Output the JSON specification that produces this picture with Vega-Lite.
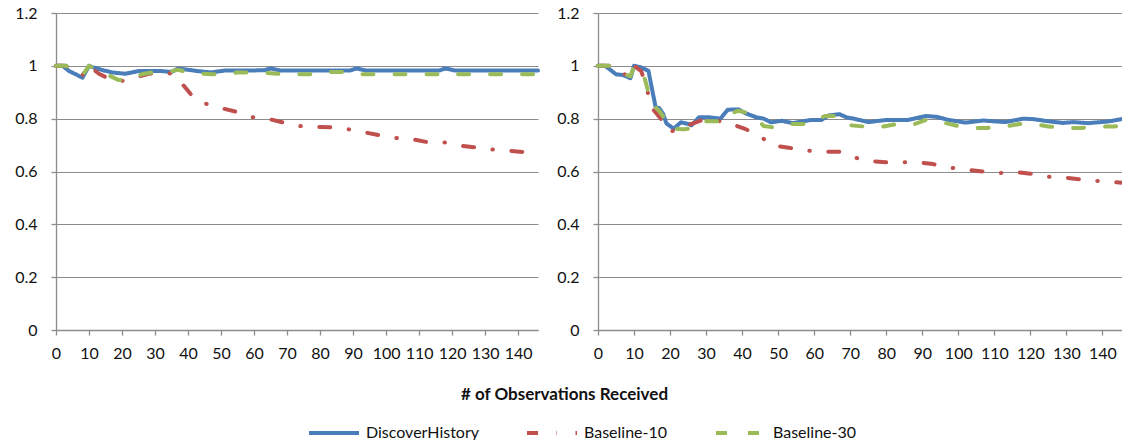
{
  "$schema": "https://vega.github.io/schema/vega-lite/v6.json",
  "padding": {"left": 14, "top": 5, "right": 0, "bottom": 0},
  "autosize": {"type": "pad"},
  "bounds": "flush",
  "spacing": 60,
  "background": "white",
  "config": {
    "font": "Lato",
    "view": {"stroke": null},
    "axis": {
      "labelFont": "Lato", "labelFontSize": 16, "labelColor": "#111111",
      "domainColor": "#8c8c8c", "domainWidth": 1.3,
      "tickColor": "#8c8c8c", "tickWidth": 1.3, "tickSize": 5,
      "gridColor": "#8c8c8c", "gridWidth": 1.2,
      "titleFont": "Lato", "titleFontSize": 17, "titleFontWeight": "bold", "titleColor": "#111111"
    },
    "legend": {"labelFont": "Lato", "labelFontSize": 16, "labelColor": "#111111"}
  },
  "data": {"values": [
    {"panel":"L","series":"DiscoverHistory","x":0,"y":1},
    {"panel":"L","series":"DiscoverHistory","x":2,"y":1},
    {"panel":"L","series":"DiscoverHistory","x":4,"y":0.98},
    {"panel":"L","series":"DiscoverHistory","x":6,"y":0.968},
    {"panel":"L","series":"DiscoverHistory","x":8,"y":0.955},
    {"panel":"L","series":"DiscoverHistory","x":10,"y":1.0},
    {"panel":"L","series":"DiscoverHistory","x":11,"y":0.995},
    {"panel":"L","series":"DiscoverHistory","x":14,"y":0.984},
    {"panel":"L","series":"DiscoverHistory","x":17,"y":0.975},
    {"panel":"L","series":"DiscoverHistory","x":21,"y":0.97},
    {"panel":"L","series":"DiscoverHistory","x":23,"y":0.975},
    {"panel":"L","series":"DiscoverHistory","x":25,"y":0.98},
    {"panel":"L","series":"DiscoverHistory","x":32,"y":0.98},
    {"panel":"L","series":"DiscoverHistory","x":35,"y":0.977},
    {"panel":"L","series":"DiscoverHistory","x":37,"y":0.99},
    {"panel":"L","series":"DiscoverHistory","x":40,"y":0.985},
    {"panel":"L","series":"DiscoverHistory","x":43,"y":0.98},
    {"panel":"L","series":"DiscoverHistory","x":47,"y":0.975},
    {"panel":"L","series":"DiscoverHistory","x":51,"y":0.982},
    {"panel":"L","series":"DiscoverHistory","x":63,"y":0.983},
    {"panel":"L","series":"DiscoverHistory","x":65,"y":0.99},
    {"panel":"L","series":"DiscoverHistory","x":68,"y":0.982},
    {"panel":"L","series":"DiscoverHistory","x":89,"y":0.982},
    {"panel":"L","series":"DiscoverHistory","x":91,"y":0.99},
    {"panel":"L","series":"DiscoverHistory","x":94,"y":0.982},
    {"panel":"L","series":"DiscoverHistory","x":116,"y":0.982},
    {"panel":"L","series":"DiscoverHistory","x":118,"y":0.99},
    {"panel":"L","series":"DiscoverHistory","x":121,"y":0.982},
    {"panel":"L","series":"DiscoverHistory","x":146,"y":0.982},

    {"panel":"L","series":"Baseline-10","x":0,"y":1},
    {"panel":"L","series":"Baseline-10","x":3,"y":1},
    {"panel":"L","series":"Baseline-10","x":6,"y":0.975},
    {"panel":"L","series":"Baseline-10","x":8,"y":0.965},
    {"panel":"L","series":"Baseline-10","x":10,"y":1.0},
    {"panel":"L","series":"Baseline-10","x":13,"y":0.97},
    {"panel":"L","series":"Baseline-10","x":15,"y":0.958},
    {"panel":"L","series":"Baseline-10","x":18,"y":0.94},
    {"panel":"L","series":"Baseline-10","x":21,"y":0.945},
    {"panel":"L","series":"Baseline-10","x":24,"y":0.955},
    {"panel":"L","series":"Baseline-10","x":28,"y":0.97},
    {"panel":"L","series":"Baseline-10","x":33,"y":0.975},
    {"panel":"L","series":"Baseline-10","x":35,"y":0.97},
    {"panel":"L","series":"Baseline-10","x":38,"y":0.935},
    {"panel":"L","series":"Baseline-10","x":41,"y":0.89},
    {"panel":"L","series":"Baseline-10","x":45,"y":0.858},
    {"panel":"L","series":"Baseline-10","x":50,"y":0.84},
    {"panel":"L","series":"Baseline-10","x":55,"y":0.825},
    {"panel":"L","series":"Baseline-10","x":59,"y":0.806},
    {"panel":"L","series":"Baseline-10","x":64,"y":0.8},
    {"panel":"L","series":"Baseline-10","x":69,"y":0.785},
    {"panel":"L","series":"Baseline-10","x":74,"y":0.772},
    {"panel":"L","series":"Baseline-10","x":79,"y":0.769},
    {"panel":"L","series":"Baseline-10","x":85,"y":0.767},
    {"panel":"L","series":"Baseline-10","x":89,"y":0.759},
    {"panel":"L","series":"Baseline-10","x":94,"y":0.747},
    {"panel":"L","series":"Baseline-10","x":99,"y":0.735},
    {"panel":"L","series":"Baseline-10","x":104,"y":0.725},
    {"panel":"L","series":"Baseline-10","x":108,"y":0.722},
    {"panel":"L","series":"Baseline-10","x":113,"y":0.71},
    {"panel":"L","series":"Baseline-10","x":118,"y":0.71},
    {"panel":"L","series":"Baseline-10","x":123,"y":0.697},
    {"panel":"L","series":"Baseline-10","x":128,"y":0.69},
    {"panel":"L","series":"Baseline-10","x":133,"y":0.682},
    {"panel":"L","series":"Baseline-10","x":138,"y":0.678},
    {"panel":"L","series":"Baseline-10","x":143,"y":0.672},
    {"panel":"L","series":"Baseline-10","x":146,"y":0.662},

    {"panel":"L","series":"Baseline-30","x":0,"y":1},
    {"panel":"L","series":"Baseline-30","x":3,"y":1},
    {"panel":"L","series":"Baseline-30","x":6,"y":0.975},
    {"panel":"L","series":"Baseline-30","x":8,"y":0.965},
    {"panel":"L","series":"Baseline-30","x":10,"y":1.0},
    {"panel":"L","series":"Baseline-30","x":15,"y":0.97},
    {"panel":"L","series":"Baseline-30","x":19,"y":0.946},
    {"panel":"L","series":"Baseline-30","x":23,"y":0.95},
    {"panel":"L","series":"Baseline-30","x":26,"y":0.968},
    {"panel":"L","series":"Baseline-30","x":29,"y":0.975},
    {"panel":"L","series":"Baseline-30","x":34,"y":0.977},
    {"panel":"L","series":"Baseline-30","x":37,"y":0.985},
    {"panel":"L","series":"Baseline-30","x":40,"y":0.975},
    {"panel":"L","series":"Baseline-30","x":42,"y":0.972},
    {"panel":"L","series":"Baseline-30","x":47,"y":0.968},
    {"panel":"L","series":"Baseline-30","x":51,"y":0.968},
    {"panel":"L","series":"Baseline-30","x":55,"y":0.975},
    {"panel":"L","series":"Baseline-30","x":62,"y":0.975},
    {"panel":"L","series":"Baseline-30","x":67,"y":0.97},
    {"panel":"L","series":"Baseline-30","x":71,"y":0.968},
    {"panel":"L","series":"Baseline-30","x":80,"y":0.968},
    {"panel":"L","series":"Baseline-30","x":82,"y":0.977},
    {"panel":"L","series":"Baseline-30","x":87,"y":0.977},
    {"panel":"L","series":"Baseline-30","x":89,"y":0.968},
    {"panel":"L","series":"Baseline-30","x":116,"y":0.968},
    {"panel":"L","series":"Baseline-30","x":118,"y":0.975},
    {"panel":"L","series":"Baseline-30","x":121,"y":0.968},
    {"panel":"L","series":"Baseline-30","x":146,"y":0.968},

    {"panel":"R","series":"DiscoverHistory","x":0,"y":1},
    {"panel":"R","series":"DiscoverHistory","x":2,"y":1},
    {"panel":"R","series":"DiscoverHistory","x":5,"y":0.968},
    {"panel":"R","series":"DiscoverHistory","x":7,"y":0.965},
    {"panel":"R","series":"DiscoverHistory","x":9,"y":0.953},
    {"panel":"R","series":"DiscoverHistory","x":10,"y":1.0},
    {"panel":"R","series":"DiscoverHistory","x":12,"y":0.994},
    {"panel":"R","series":"DiscoverHistory","x":14,"y":0.981},
    {"panel":"R","series":"DiscoverHistory","x":15,"y":0.912},
    {"panel":"R","series":"DiscoverHistory","x":16,"y":0.843},
    {"panel":"R","series":"DiscoverHistory","x":17,"y":0.84},
    {"panel":"R","series":"DiscoverHistory","x":18,"y":0.82},
    {"panel":"R","series":"DiscoverHistory","x":19,"y":0.782},
    {"panel":"R","series":"DiscoverHistory","x":21,"y":0.762},
    {"panel":"R","series":"DiscoverHistory","x":23,"y":0.786},
    {"panel":"R","series":"DiscoverHistory","x":25,"y":0.78},
    {"panel":"R","series":"DiscoverHistory","x":26,"y":0.775},
    {"panel":"R","series":"DiscoverHistory","x":28,"y":0.805},
    {"panel":"R","series":"DiscoverHistory","x":31,"y":0.805},
    {"panel":"R","series":"DiscoverHistory","x":34,"y":0.8},
    {"panel":"R","series":"DiscoverHistory","x":36,"y":0.834},
    {"panel":"R","series":"DiscoverHistory","x":39,"y":0.835},
    {"panel":"R","series":"DiscoverHistory","x":41,"y":0.82},
    {"panel":"R","series":"DiscoverHistory","x":44,"y":0.805},
    {"panel":"R","series":"DiscoverHistory","x":46,"y":0.8},
    {"panel":"R","series":"DiscoverHistory","x":48,"y":0.786},
    {"panel":"R","series":"DiscoverHistory","x":51,"y":0.792},
    {"panel":"R","series":"DiscoverHistory","x":54,"y":0.783},
    {"panel":"R","series":"DiscoverHistory","x":59,"y":0.795},
    {"panel":"R","series":"DiscoverHistory","x":62,"y":0.795},
    {"panel":"R","series":"DiscoverHistory","x":64,"y":0.812},
    {"panel":"R","series":"DiscoverHistory","x":67,"y":0.817},
    {"panel":"R","series":"DiscoverHistory","x":69,"y":0.805},
    {"panel":"R","series":"DiscoverHistory","x":71,"y":0.8},
    {"panel":"R","series":"DiscoverHistory","x":75,"y":0.787},
    {"panel":"R","series":"DiscoverHistory","x":80,"y":0.795},
    {"panel":"R","series":"DiscoverHistory","x":86,"y":0.795},
    {"panel":"R","series":"DiscoverHistory","x":91,"y":0.81},
    {"panel":"R","series":"DiscoverHistory","x":94,"y":0.807},
    {"panel":"R","series":"DiscoverHistory","x":97,"y":0.796},
    {"panel":"R","series":"DiscoverHistory","x":102,"y":0.785},
    {"panel":"R","series":"DiscoverHistory","x":107,"y":0.793},
    {"panel":"R","series":"DiscoverHistory","x":113,"y":0.787},
    {"panel":"R","series":"DiscoverHistory","x":118,"y":0.8},
    {"panel":"R","series":"DiscoverHistory","x":121,"y":0.798},
    {"panel":"R","series":"DiscoverHistory","x":125,"y":0.79},
    {"panel":"R","series":"DiscoverHistory","x":129,"y":0.784},
    {"panel":"R","series":"DiscoverHistory","x":132,"y":0.787},
    {"panel":"R","series":"DiscoverHistory","x":136,"y":0.783},
    {"panel":"R","series":"DiscoverHistory","x":142,"y":0.79},
    {"panel":"R","series":"DiscoverHistory","x":146,"y":0.8},

    {"panel":"R","series":"Baseline-10","x":0,"y":1},
    {"panel":"R","series":"Baseline-10","x":4,"y":1},
    {"panel":"R","series":"Baseline-10","x":7,"y":0.97},
    {"panel":"R","series":"Baseline-10","x":9,"y":0.96},
    {"panel":"R","series":"Baseline-10","x":10,"y":1.0},
    {"panel":"R","series":"Baseline-10","x":12,"y":0.98},
    {"panel":"R","series":"Baseline-10","x":13,"y":0.94},
    {"panel":"R","series":"Baseline-10","x":15,"y":0.84},
    {"panel":"R","series":"Baseline-10","x":18,"y":0.79},
    {"panel":"R","series":"Baseline-10","x":20,"y":0.75},
    {"panel":"R","series":"Baseline-10","x":22,"y":0.76},
    {"panel":"R","series":"Baseline-10","x":25,"y":0.775},
    {"panel":"R","series":"Baseline-10","x":29,"y":0.795},
    {"panel":"R","series":"Baseline-10","x":31,"y":0.795},
    {"panel":"R","series":"Baseline-10","x":34,"y":0.79},
    {"panel":"R","series":"Baseline-10","x":37,"y":0.78},
    {"panel":"R","series":"Baseline-10","x":41,"y":0.76},
    {"panel":"R","series":"Baseline-10","x":45,"y":0.735},
    {"panel":"R","series":"Baseline-10","x":48,"y":0.70},
    {"panel":"R","series":"Baseline-10","x":53,"y":0.69},
    {"panel":"R","series":"Baseline-10","x":57,"y":0.68},
    {"panel":"R","series":"Baseline-10","x":62,"y":0.675},
    {"panel":"R","series":"Baseline-10","x":67,"y":0.675},
    {"panel":"R","series":"Baseline-10","x":70,"y":0.657},
    {"panel":"R","series":"Baseline-10","x":75,"y":0.64},
    {"panel":"R","series":"Baseline-10","x":80,"y":0.635},
    {"panel":"R","series":"Baseline-10","x":84,"y":0.635},
    {"panel":"R","series":"Baseline-10","x":89,"y":0.635},
    {"panel":"R","series":"Baseline-10","x":93,"y":0.628},
    {"panel":"R","series":"Baseline-10","x":97,"y":0.616},
    {"panel":"R","series":"Baseline-10","x":102,"y":0.607},
    {"panel":"R","series":"Baseline-10","x":107,"y":0.6},
    {"panel":"R","series":"Baseline-10","x":111,"y":0.594},
    {"panel":"R","series":"Baseline-10","x":116,"y":0.598},
    {"panel":"R","series":"Baseline-10","x":121,"y":0.59},
    {"panel":"R","series":"Baseline-10","x":125,"y":0.58},
    {"panel":"R","series":"Baseline-10","x":129,"y":0.578},
    {"panel":"R","series":"Baseline-10","x":134,"y":0.57},
    {"panel":"R","series":"Baseline-10","x":138,"y":0.565},
    {"panel":"R","series":"Baseline-10","x":143,"y":0.56},
    {"panel":"R","series":"Baseline-10","x":146,"y":0.557},

    {"panel":"R","series":"Baseline-30","x":0,"y":1},
    {"panel":"R","series":"Baseline-30","x":4,"y":1},
    {"panel":"R","series":"Baseline-30","x":7,"y":0.97},
    {"panel":"R","series":"Baseline-30","x":9,"y":0.96},
    {"panel":"R","series":"Baseline-30","x":10,"y":1.0},
    {"panel":"R","series":"Baseline-30","x":12,"y":0.98},
    {"panel":"R","series":"Baseline-30","x":13,"y":0.95},
    {"panel":"R","series":"Baseline-30","x":14,"y":0.9},
    {"panel":"R","series":"Baseline-30","x":15,"y":0.855},
    {"panel":"R","series":"Baseline-30","x":17,"y":0.83},
    {"panel":"R","series":"Baseline-30","x":18,"y":0.81},
    {"panel":"R","series":"Baseline-30","x":20,"y":0.762},
    {"panel":"R","series":"Baseline-30","x":24,"y":0.76},
    {"panel":"R","series":"Baseline-30","x":27,"y":0.765},
    {"panel":"R","series":"Baseline-30","x":29,"y":0.79},
    {"panel":"R","series":"Baseline-30","x":32,"y":0.79},
    {"panel":"R","series":"Baseline-30","x":35,"y":0.79},
    {"panel":"R","series":"Baseline-30","x":37,"y":0.82},
    {"panel":"R","series":"Baseline-30","x":39,"y":0.83},
    {"panel":"R","series":"Baseline-30","x":42,"y":0.82},
    {"panel":"R","series":"Baseline-30","x":44,"y":0.8},
    {"panel":"R","series":"Baseline-30","x":46,"y":0.772},
    {"panel":"R","series":"Baseline-30","x":50,"y":0.765},
    {"panel":"R","series":"Baseline-30","x":54,"y":0.78},
    {"panel":"R","series":"Baseline-30","x":58,"y":0.78},
    {"panel":"R","series":"Baseline-30","x":63,"y":0.81},
    {"panel":"R","series":"Baseline-30","x":67,"y":0.81},
    {"panel":"R","series":"Baseline-30","x":70,"y":0.775},
    {"panel":"R","series":"Baseline-30","x":74,"y":0.77},
    {"panel":"R","series":"Baseline-30","x":79,"y":0.77},
    {"panel":"R","series":"Baseline-30","x":83,"y":0.78},
    {"panel":"R","series":"Baseline-30","x":88,"y":0.78},
    {"panel":"R","series":"Baseline-30","x":91,"y":0.795},
    {"panel":"R","series":"Baseline-30","x":96,"y":0.785},
    {"panel":"R","series":"Baseline-30","x":100,"y":0.772},
    {"panel":"R","series":"Baseline-30","x":105,"y":0.765},
    {"panel":"R","series":"Baseline-30","x":108,"y":0.765},
    {"panel":"R","series":"Baseline-30","x":113,"y":0.77},
    {"panel":"R","series":"Baseline-30","x":117,"y":0.78},
    {"panel":"R","series":"Baseline-30","x":121,"y":0.78},
    {"panel":"R","series":"Baseline-30","x":125,"y":0.77},
    {"panel":"R","series":"Baseline-30","x":130,"y":0.765},
    {"panel":"R","series":"Baseline-30","x":134,"y":0.765},
    {"panel":"R","series":"Baseline-30","x":139,"y":0.77},
    {"panel":"R","series":"Baseline-30","x":143,"y":0.77},
    {"panel":"R","series":"Baseline-30","x":146,"y":0.775}
  ]},
  "hconcat": [
    {
      "width": 482, "height": 317,
      "transform": [{"filter": "datum.panel == 'L'"}],
      "mark": {"type": "line", "strokeWidth": 4, "strokeCap": "round", "strokeJoin": "round"},
      "encoding": {
        "x": {"field": "x", "type": "quantitative",
          "scale": {"domain": [0, 146], "nice": false, "zero": false},
          "axis": {"values": [0,10,20,30,40,50,60,70,80,90,100,110,120,130,140], "grid": false, "labelPadding": 10, "labelFlush": false, "labelOverlap": false,
            "title": "# of Observations Received", "titleX": 508, "titleY": 56, "titleAnchor": "middle", "titleAlign": "center", "titleBaseline": "top"}},
        "y": {"field": "y", "type": "quantitative",
          "scale": {"domain": [0, 1.2], "nice": false},
          "axis": {"values": [0,0.2,0.4,0.6,0.8,1,1.2], "format": "~g", "labelPadding": 14, "title": null, "grid": true}},
        "color": {"field": "series", "type": "nominal",
          "scale": {"domain": ["DiscoverHistory", "Baseline-10", "Baseline-30"], "range": ["#4a7ebb", "#c0504d", "#9bbb59"]},
          "legend": {"orient": "none", "legendX": 251, "legendY": 393, "direction": "horizontal", "title": null,
            "symbolType": "stroke", "symbolSize": 2500, "symbolStrokeWidth": 4, "labelOffset": 5, "columnPadding": 40}},
        "strokeDash": {"field": "series", "type": "nominal",
          "scale": {"domain": ["DiscoverHistory", "Baseline-10", "Baseline-30"], "range": [[1, 0], [11, 18.5, 0.5, 18.5], [11, 21]]},
          "legend": {"orient": "none", "legendX": 251, "legendY": 393, "direction": "horizontal", "title": null,
            "symbolType": "stroke", "symbolSize": 2500, "symbolStrokeWidth": 4, "labelOffset": 5, "columnPadding": 40}}
      }
    },
    {
      "width": 526, "height": 317,
      "transform": [{"filter": "datum.panel == 'R'"}],
      "mark": {"type": "line", "strokeWidth": 4, "strokeCap": "round", "strokeJoin": "round"},
      "encoding": {
        "x": {"field": "x", "type": "quantitative",
          "scale": {"domain": [0, 146], "nice": false, "zero": false},
          "axis": {"values": [0,10,20,30,40,50,60,70,80,90,100,110,120,130,140], "grid": false, "labelPadding": 10, "labelFlush": false, "labelOverlap": false, "title": null}},
        "y": {"field": "y", "type": "quantitative",
          "scale": {"domain": [0, 1.2], "nice": false},
          "axis": {"values": [0,0.2,0.4,0.6,0.8,1,1.2], "format": "~g", "labelPadding": 14, "title": null, "grid": true}},
        "color": {"field": "series", "type": "nominal",
          "scale": {"domain": ["DiscoverHistory", "Baseline-10", "Baseline-30"], "range": ["#4a7ebb", "#c0504d", "#9bbb59"]}},
        "strokeDash": {"field": "series", "type": "nominal",
          "scale": {"domain": ["DiscoverHistory", "Baseline-10", "Baseline-30"], "range": [[1, 0], [11, 18.5, 0.5, 18.5], [11, 21]]}}
      }
    }
  ],
  "resolve": {"scale": {"x": "independent", "y": "independent"}}
}
